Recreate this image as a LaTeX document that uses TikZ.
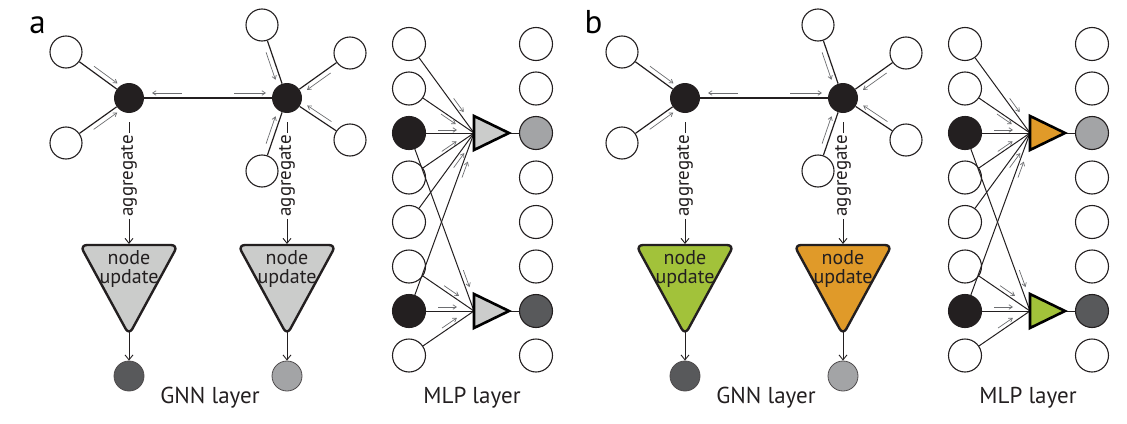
\documentclass[tikz,border=0pt]{standalone}
\usepackage{fontspec}
\setmainfont{PT Sans}
\usetikzlibrary{calc,arrows.meta}
\definecolor{hubc}{HTML}{231F20}
\definecolor{darko}{HTML}{58595B}
\definecolor{lighto}{HTML}{A3A4A6}
\definecolor{trig}{HTML}{CBCCCB}
\definecolor{grn}{HTML}{A2C23A}
\definecolor{org}{HTML}{E09A29}
\definecolor{arrg}{HTML}{6D6E71}
\tikzset{
  nb/.style={circle, draw=hubc, line width=1.1pt, fill=white, minimum size=32pt, inner sep=0pt},
  hub/.style={circle, fill=hubc, minimum size=30pt, inner sep=0pt},
  outc/.style={circle, draw=hubc!80, line width=0.8pt, minimum size=30pt, inner sep=0pt},
  mc/.style={circle, draw=hubc, line width=1.1pt, minimum size=33pt, inner sep=0pt},
  edge/.style={draw=hubc, line width=1.2pt},
  medge/.style={draw=hubc, line width=1pt},
  garr/.style={draw=arrg, line width=0.7pt, -{Straight Barb[length=3.5pt,width=4.5pt]}},
  conn/.style={draw=hubc, line width=0.9pt, -{Straight Barb[length=5pt,width=8pt]}},
  aggr/.style={rotate=90, fill=white, inner xsep=2.5pt, inner ysep=0pt, text=hubc, font=\fontsize{19}{19}\selectfont},
  utri/.style={draw=hubc, line width=2.4pt, rounded corners=7pt, line join=round},
  mtri/.style={draw=black, line width=2.6pt, line join=miter},
  utxt/.style={align=center, inner sep=0pt, text=hubc, font=\fontsize{20}{19.5}\selectfont},
  ttl/.style={anchor=base, inner sep=0pt, text=hubc, font=\fontsize{23}{23}\selectfont},
  lab/.style={anchor=base, inner sep=0pt, text=black, font=\fontsize{33}{33}\selectfont}
}
% gray direction arrow parallel to the segment A -> B
\newcommand\garr[6]{\draw[garr] ($(#2)!#3!(#1)!#6!#5:(#2)$) -- ($(#2)!#4!(#1)!#6!#5:(#2)$);}
% one panel: #1 prefix, #2 xshift, #3 #4 GNN update colours, #5 #6 MLP unit colours, #7 label
\newcommand\drawpanel[7]{%
\begin{scope}[xshift=#2]
  \node[lab] (#1lab) at (37.5,33) {#7};
  % ---- GNN layer
  \node[hub] (#1L) at (129,98) {};
  \node[hub] (#1R) at (287,98) {};
  \node[nb] (#1L1) at (66,52) {};
  \node[nb] (#1L2) at (66,143) {};
  \node[nb] (#1R1) at (262,25) {};
  \node[nb] (#1R2) at (350,53) {};
  \node[nb] (#1R3) at (350,140) {};
  \node[nb] (#1R4) at (262,171) {};
  \draw[edge] (#1L1) -- (#1L);
  \draw[edge] (#1L2) -- (#1L);
  \draw[edge] (#1L) -- (#1R);
  \draw[edge] (#1R1) -- (#1R);
  \draw[edge] (#1R2) -- (#1R);
  \draw[edge] (#1R3) -- (#1R);
  \draw[edge] (#1R4) -- (#1R);
  \garr{#1L1}{#1L}{47pt}{18pt}{90}{5pt}
  \garr{#1L2}{#1L}{47pt}{18pt}{-90}{5pt}
  \garr{#1L}{#1R}{53pt}{21pt}{90}{5pt}
  \garr{#1R}{#1L}{53pt}{23pt}{-90}{5pt}
  \garr{#1R1}{#1R}{50pt}{21pt}{-90}{5pt}
  \garr{#1R2}{#1R}{50pt}{21pt}{90}{5pt}
  \garr{#1R3}{#1R}{50pt}{21pt}{-90}{5pt}
  \garr{#1R4}{#1R}{50pt}{21pt}{90}{5pt}
  \coordinate (#1t1) at (129,244);
  \coordinate (#1t2) at (287,244);
  \draw[conn, shorten <=9pt] (#1L) -- node[aggr, pos=0.48] (#1ag1) {aggregate} (#1t1);
  \draw[conn, shorten <=9pt] (#1R) -- node[aggr, pos=0.48] (#1ag2) {aggregate} (#1t2);
  \draw[utri, fill=#3] (80,245) -- (178,245) -- (129,335) -- cycle;
  \draw[utri, fill=#4] (238,245) -- (336,245) -- (287,335) -- cycle;
  \node[utxt] (#1u1) at (129,269) {node\\update};
  \node[utxt] (#1u2) at (287,269) {node\\update};
  \coordinate (#1b1) at (129,331);
  \coordinate (#1b2) at (287,331);
  \node[outc, fill=darko] (#1o1) at (129,376) {};
  \node[outc, fill=lighto] (#1o2) at (287,376) {};
  \draw[conn] (#1b1) -- (#1o1);
  \draw[conn] (#1b2) -- (#1o2);
  \node[ttl] (#1gt) at (210,403) {GNN layer};
  % ---- MLP layer
  \foreach \i/\y/\fa/\fb in {1/44/white/white, 2/88.5/white/white, 3/133/hubc/lighto,
      4/177.5/white/white, 5/222/white/white, 6/266.5/white/white, 7/311/hubc/darko, 8/355.5/white/white}{
    \node[mc, fill=\fa] (#1a\i) at (409,\y) {};
    \node[mc, fill=\fb] (#1c\i) at (536,\y) {};
  }
  \coordinate (#1T1) at (474,133);
  \coordinate (#1T2) at (474,311);
  \coordinate (#1P1) at (509,133);
  \coordinate (#1P2) at (509,311);
  \foreach \k in {1,2,3,4,5,7}{\draw[medge] (#1a\k) -- (#1T1);}
  \foreach \k in {3,6,7,8}{\draw[medge] (#1a\k) -- (#1T2);}
  \draw[medge] (#1P1) -- (#1c3);
  \draw[medge] (#1P2) -- (#1c7);
  \garr{#1a1}{#1T1}{40pt}{23pt}{90}{4pt}
  \garr{#1a2}{#1T1}{38pt}{20pt}{-90}{3pt}
  \garr{#1a3}{#1T1}{36pt}{17pt}{90}{3pt}
  \garr{#1a4}{#1T1}{37pt}{19pt}{90}{3pt}
  \garr{#1a5}{#1T1}{40pt}{22pt}{-90}{4pt}
  \garr{#1a7}{#1T1}{46pt}{29pt}{-90}{4pt}
  \garr{#1a3}{#1T2}{42pt}{24pt}{90}{4pt}
  \garr{#1a6}{#1T2}{39pt}{21pt}{90}{4pt}
  \garr{#1a7}{#1T2}{36pt}{17pt}{90}{4pt}
  \garr{#1a8}{#1T2}{36pt}{18pt}{90}{4pt}
  \draw[mtri, fill=#5] (474,116) -- (#1P1) -- (474,150) -- cycle;
  \draw[mtri, fill=#6] (474,294) -- (#1P2) -- (474,328) -- cycle;
  \node[ttl] (#1mt) at (472,403) {MLP layer};
\end{scope}}

\begin{document}
\begin{tikzpicture}[x=1pt, y=-1pt]
  \useasboundingbox (0,0) rectangle (1127,423);
  \drawpanel{pa}{0pt}{trig}{trig}{trig}{trig}{a}
  \drawpanel{pb}{556pt}{grn}{org}{org}{grn}{b}
\end{tikzpicture}
\end{document}
